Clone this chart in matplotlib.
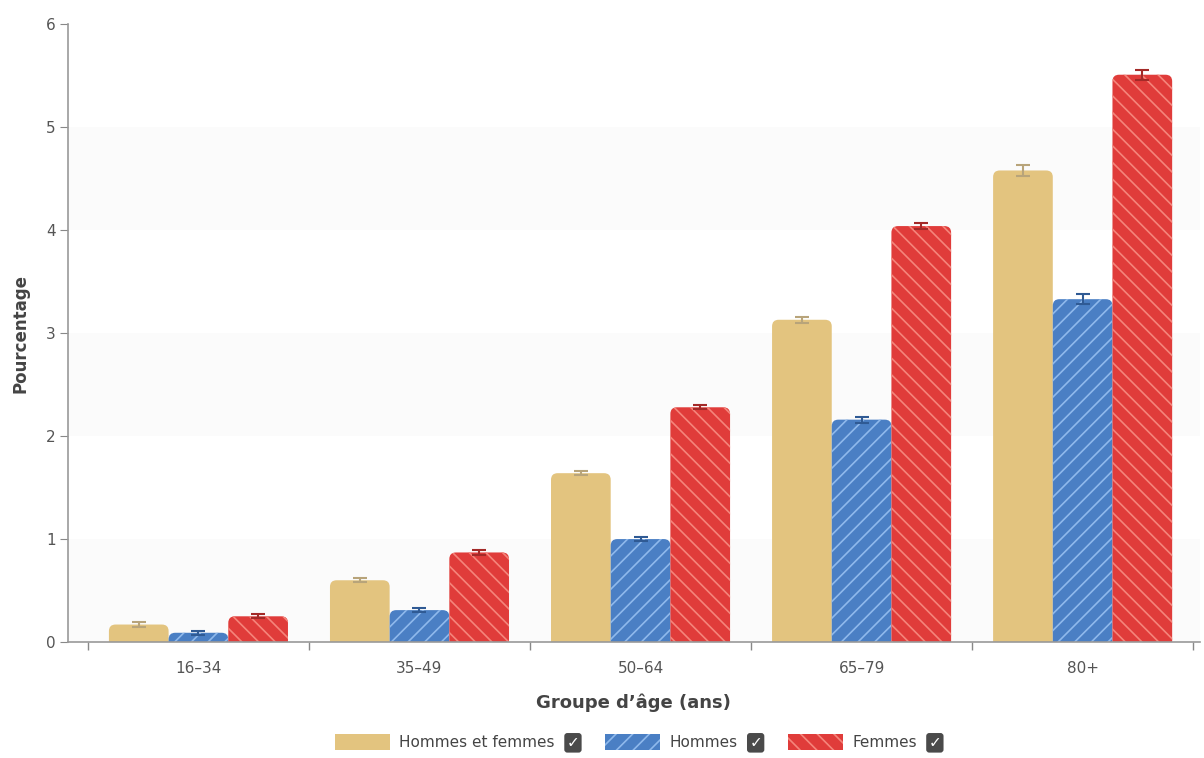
import matplotlib
matplotlib.use("Agg")
import matplotlib.pyplot as plt
from matplotlib.patches import FancyBboxPatch, Patch
import numpy as np

groupes = ["16–34", "35–49", "50–64", "65–79", "80+"]
series = ["Hommes et femmes", "Hommes", "Femmes"]
ensemble = [0.17, 0.60, 1.64, 3.13, 4.58]
hommes = [0.09, 0.31, 1.00, 2.16, 3.33]
femmes = [0.25, 0.87, 2.28, 4.04, 5.51]
err_ensemble = [0.02, 0.02, 0.02, 0.03, 0.05]
err_hommes = [0.02, 0.02, 0.02, 0.03, 0.05]
err_femmes = [0.02, 0.02, 0.02, 0.03, 0.05]

couleurs = ["#e3c47f", "#4a7fc4", "#e03c3a"]
hachures = [None, "//", "\\\\"]
hach_coul = ["#e3c47f", "#8fb9ec", "#f5857b"]
err_coul = ["#b8a47a", "#2f5a94", "#a32a28"]

plt.rcParams["font.family"] = ["DejaVu Sans"]
plt.rcParams["hatch.linewidth"] = 1.2

fig = plt.figure(figsize=(12.04, 7.58), dpi=100)
ax = fig.add_axes([0.0565, 0.153, 0.94, 0.815])

x = np.arange(len(groupes))
w = 0.27
valeurs = [ensemble, hommes, femmes]
erreurs = [err_ensemble, err_hommes, err_femmes]

for i, (vals, errs) in enumerate(zip(valeurs, erreurs)):
    pos = x + (i - 1) * w
    for xp, v in zip(pos, vals):
        # rounded top corners; the rounded bottom is hidden below y=0
        p = FancyBboxPatch((xp - w / 2 + 0.03, -0.2), w - 0.06, v + 0.2 - 0.064,
                           boxstyle="round,pad=0.03,rounding_size=0.03",
                           mutation_aspect=2.13,
                           facecolor=couleurs[i], edgecolor=hach_coul[i],
                           linewidth=0, hatch=hachures[i], zorder=2)
        ax.add_patch(p)
    ax.errorbar(pos, vals, yerr=errs, fmt="none", ecolor=err_coul[i],
                elinewidth=1.5, capsize=5, capthick=1.5, zorder=3)

ax.set_xlim(-0.59, 4.53)
ax.set_ylim(0, 6)
ax.set_yticks(range(7))
ax.set_xticks(x)
ax.set_xticklabels(groupes)
ax.set_xticks(np.arange(-0.5, 5, 1), minor=True)
ax.tick_params(axis="x", which="major", length=0, pad=14, labelsize=11, colors="#555555")
ax.tick_params(axis="x", which="minor", length=6, color="#888888", width=1)
ax.tick_params(axis="y", length=6, color="#888888", labelsize=11, labelcolor="#555555", pad=3)

for s in ["top", "right"]:
    ax.spines[s].set_visible(False)
for s in ["left", "bottom"]:
    ax.spines[s].set_color("#999999")
    ax.spines[s].set_linewidth(1.2)

# faint alternating bands
for k in range(0, 6, 2):
    ax.axhspan(k, k + 1, color="#fbfbfb", zorder=0, linewidth=0)

ax.set_ylabel("Pourcentage", fontsize=12, fontweight="bold", color="#444444", labelpad=12)
ax.set_xlabel("Groupe d’âge (ans)", fontsize=13, fontweight="bold", color="#444444", labelpad=12)

handles = [Patch(facecolor=couleurs[i], edgecolor=hach_coul[i], linewidth=0,
                 hatch=hachures[i]) for i in range(3)]
leg = fig.legend(handles, series, loc="lower center",
                 bbox_to_anchor=(0.52, -0.008), ncol=3, frameon=False,
                 fontsize=11, handlelength=3.6, handleheight=1.2,
                 columnspacing=3.3, handletextpad=0.6)
for t in leg.get_texts():
    t.set_color("#444444")

# check boxes after each legend entry
fig.canvas.draw()
renderer = fig.canvas.get_renderer()
inv = fig.transFigure.inverted()
for t in leg.get_texts():
    bb = t.get_window_extent(renderer)
    xx, yy = inv.transform((bb.x1 + 18, (bb.y0 + bb.y1) / 2))
    fig.text(xx, yy, "✓", fontsize=11, color="white", fontweight="bold",
             ha="center", va="center",
             bbox=dict(boxstyle="round,pad=0.15,rounding_size=0.2",
                       facecolor="#4a4a4a", edgecolor="none"))

fig.savefig("out.png", dpi=100)
